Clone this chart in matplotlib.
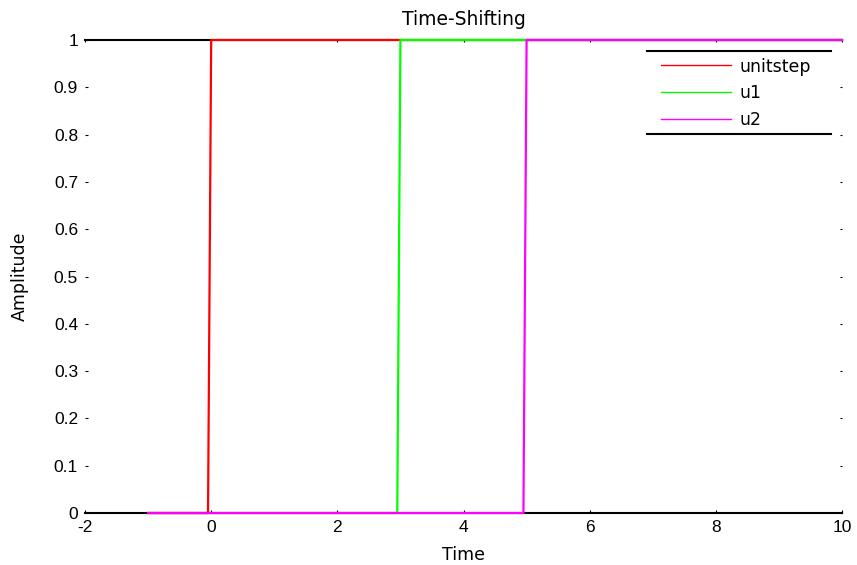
import numpy as np
import matplotlib
matplotlib.use("Agg")
import matplotlib.pyplot as plt
from matplotlib.lines import Line2D

plt.rcParams["font.family"] = ["DejaVu Sans"]
plt.rcParams["axes.unicode_minus"] = False

# time axis and step signals
t = np.round(np.arange(-1, 10.001, 0.05), 2)
names = ["unitstep", "u1", "u2"]
step_at = [0, 3, 5]
colors = ["#ff0000", "#00ff00", "#ff00ff"]
xticks = [-2, 0, 2, 4, 6, 8, 10]
yticks = [0, 0.1, 0.2, 0.3, 0.4, 0.5, 0.6, 0.7, 0.8, 0.9, 1]
ytick_labels = ["0", "0.1", "0.2", "0.3", "0.4", "0.5", "0.6", "0.7", "0.8", "0.9", "1"]

fig = plt.figure(figsize=(8.57, 5.65), dpi=100)
ax = fig.add_axes([0.0992, 0.092, 0.8833, 0.8372])

# only top and bottom box lines, drawn under the data
ax.spines["left"].set_visible(False)
ax.spines["right"].set_visible(False)
for side in ["top", "bottom"]:
    ax.spines[side].set_linewidth(1.5)
    ax.spines[side].set_zorder(0)

for name, s, c in zip(names, step_at, colors):
    y = (t >= s).astype(float)
    ax.plot(t, y, color=c, lw=1.6, zorder=2, clip_on=False)

ax.set_xlim(-2, 10)
ax.set_ylim(0, 1)
ax.set_xticks(xticks)
ax.set_yticks(yticks)
ax.set_yticklabels(ytick_labels)
ax.tick_params(direction="in", length=2.5, width=0.8, pad=5,
               right=True, top=True)
# right/top ticks are only tiny dots in the original
for tk in ax.yaxis.get_major_ticks() + ax.xaxis.get_major_ticks():
    tk.tick2line.set_markersize(1.2)
for lab in ax.get_xticklabels() + ax.get_yticklabels():
    lab.set_fontfamily("Liberation Sans")
    lab.set_fontsize(12.5)

ax.set_title("Time-Shifting", fontsize=13.5, pad=11)
ax.set_xlabel("Time", fontsize=12.5, labelpad=8)
ax.set_ylabel("Amplitude", fontsize=12.5, labelpad=18)

handles = [Line2D([], [], color=c, lw=1) for c in colors]
leg = ax.legend(handles, names, loc="upper left",
                bbox_to_anchor=(0.761, 0.963), frameon=False, fontsize=12.5,
                handlelength=4.0, handletextpad=0.5, labelspacing=0.5,
                borderaxespad=0, borderpad=0)

# legend box: only top and bottom rules
ax.plot([0.742, 0.9855], [0.9767, 0.9767], color="black", lw=1.5,
        transform=ax.transAxes, clip_on=False)
ax.plot([0.742, 0.9855], [0.8006, 0.8006], color="black", lw=1.5,
        transform=ax.transAxes, clip_on=False)

fig.savefig("out.png", dpi=100)
